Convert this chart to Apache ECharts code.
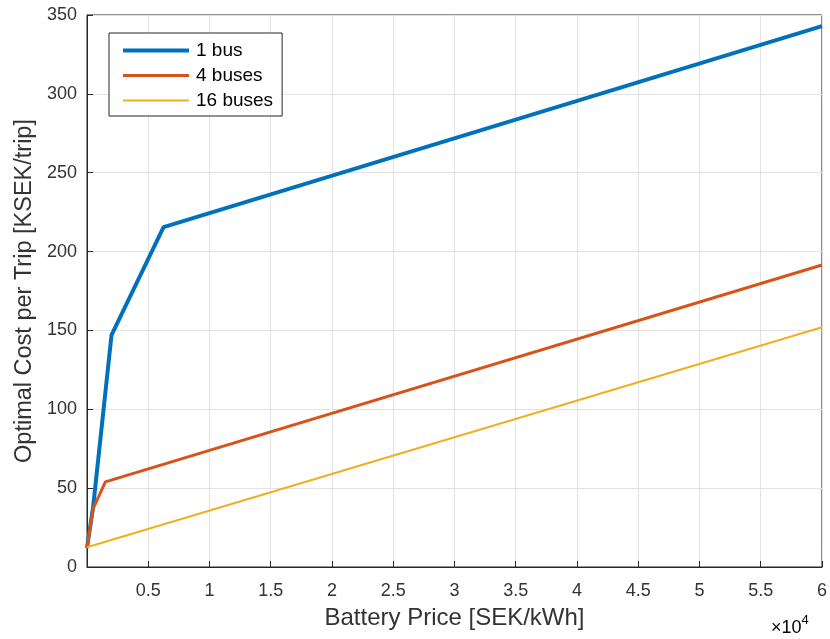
<!DOCTYPE html>
<html>
<head>
<meta charset="utf-8">
<script src="https://cdn.jsdelivr.net/npm/echarts@6/dist/echarts.min.js"></script>
<style>
html,body{margin:0;padding:0;background:#fff;}
#c{width:830px;height:639px;}
</style>
</head>
<body>
<div id="c"></div>
<script>
// Data (battery price in SEK/kWh, cost in KSEK/trip)
const seriesNames = ['1 bus', '4 buses', '16 buses'];
const bus1 = [[0, 12], [500, 38], [2000, 147], [6250, 215.5], [60000, 343]];
const bus4 = [[0, 12], [500, 37], [1500, 54], [60000, 191.5]];
const bus16 = [[0, 12.5], [60000, 152]];
const colors = ['#0072BD', '#D95319', '#EDB120'];
const widths = [4, 3, 2];

const chart = echarts.init(document.getElementById('c'), null, {renderer: 'canvas'});
const font = 'Liberation Sans, Arial, sans-serif';
chart.setOption({
  animation: false,
  backgroundColor: '#fff',
  grid: {left: 87, right: 8, top: 15, bottom: 72, show: true, borderColor: '#262626', borderWidth: 1, backgroundColor: 'transparent'},
  legend: {
    orient: 'vertical', left: 109, top: 33,
    data: seriesNames.map((n, i) => ({
      name: n,
      icon: 'path://M0,0H66V' + widths[i] + 'H0Z',
      itemStyle: {color: colors[i], opacity: 1}
    })),
    itemWidth: 66, itemHeight: 18, itemGap: 6,
    padding: [8, 9, 6, 14],
    borderColor: '#262626', borderWidth: 1, backgroundColor: '#fff',
    textStyle: {fontFamily: font, fontSize: 19, color: '#000', padding: [0, 0, 0, 2]}
  },
  xAxis: {
    type: 'value', min: 0, max: 60000, interval: 5000,
    name: 'Battery Price [SEK/kWh]', nameLocation: 'middle', nameGap: 39,
    nameTextStyle: {fontFamily: font, fontSize: 24, color: '#333'},
    axisLine: {show: true, onZero: false, lineStyle: {color: '#262626'}},
    axisTick: {show: true, inside: true, length: 6, lineStyle: {color: '#262626'}},
    axisLabel: {fontFamily: font, fontSize: 18, color: '#333', margin: 15,
      formatter: v => v === 0 ? '' : String(v / 10000)},
    splitLine: {show: true, lineStyle: {color: '#e3e3e3'}}
  },
  yAxis: {
    type: 'value', min: 0, max: 350, interval: 50,
    name: 'Optimal Cost per Trip [KSEK/trip]', nameLocation: 'middle', nameGap: 49,
    nameTextStyle: {fontFamily: font, fontSize: 23.5, color: '#333'},
    axisLine: {show: true, lineStyle: {color: '#262626'}},
    axisTick: {show: true, inside: true, length: 6, lineStyle: {color: '#262626'}},
    axisLabel: {fontFamily: font, fontSize: 18, color: '#333', margin: 10},
    splitLine: {show: true, lineStyle: {color: '#e3e3e3'}}
  },
  graphic: [{
    type: 'text', left: 771, top: 614,
    style: {
      text: '{a|×10}{b|4}',
      rich: {
        a: {fontFamily: font, fontSize: 18, color: '#333', verticalAlign: 'bottom'},
        b: {fontFamily: font, fontSize: 13, color: '#333', verticalAlign: 'top', padding: [0, 0, 10, 0]}
      }
    }
  }],
  series: [bus1, bus4, bus16].map((d, i) => ({
    name: seriesNames[i], type: 'line', data: d, symbol: 'none',
    lineStyle: {color: colors[i], width: widths[i]},
    itemStyle: {color: colors[i]}
  }))
});
</script>
</body>
</html>
